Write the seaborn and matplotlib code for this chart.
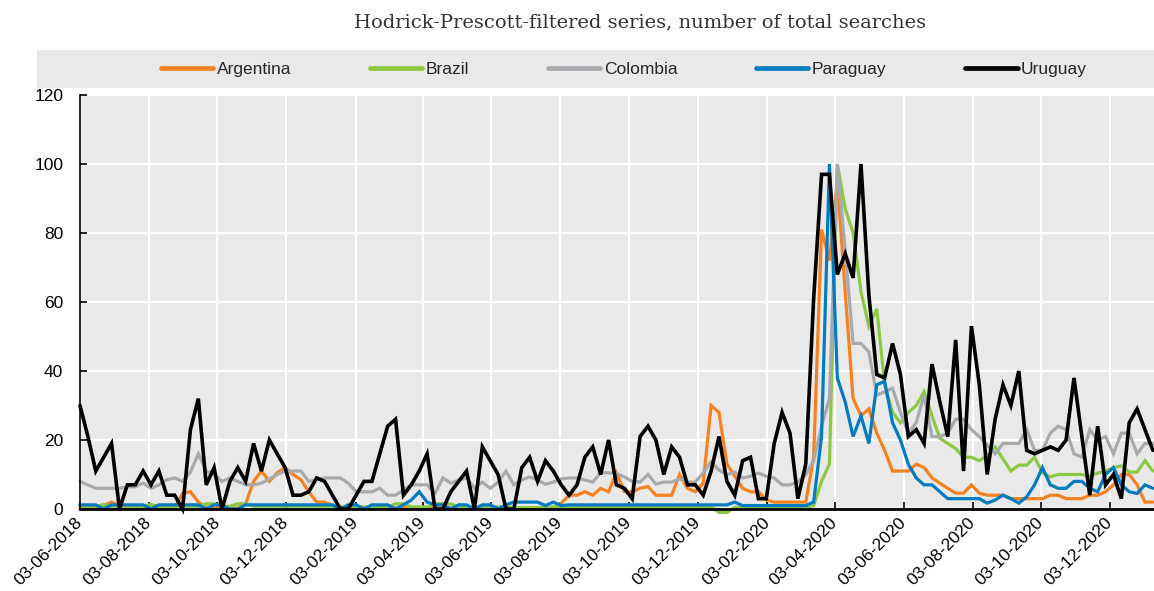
import pandas as pd
import seaborn as sns
import matplotlib.pyplot as plt
import matplotlib.dates as mdates
from matplotlib.patches import Rectangle
from matplotlib.lines import Line2D
from matplotlib import font_manager

# weekly observations (Sundays), June 2018 - January 2021
weeks = pd.date_range('2018-06-03', periods=137, freq='7D')

argentina = [0.3, 0.3, 0.3, 1, 2, 1, 0.3, 0.3, 0.3, 0.3, 0.3, 0.3, 0.3, 4.5, 5, 2, 0.5, 0.3, 0.3, 0.3,
             0.3, 1.5, 8, 11, 8, 10.5, 12, 10, 8.5, 5, 2, 2, 1,
             0.3, 0.3, 0.3, 0.3, 0.3, 0.3, 0.3, 0.3, 0.3, 0.3, 0.3, 0.3, 0.3, 0.3, 0.3, 0.3, 0.3, 0.3,
             0.3, 0.3, 0.3, 0.3, 0.3, 0.3, 0.3, 0.3, 0.3, 0.3,
             1.7, 4, 4, 5, 4, 6, 5, 10.5, 5, 5, 6, 6.5, 4, 4, 4, 10, 6, 5, 7.5, 30, 28, 13, 9.5, 6,
             5, 5, 2.6, 2, 2, 2, 2, 2, 15, 81, 72, 95, 63, 32, 27, 29, 22, 17, 11, 11, 11, 13, 12, 9,
             7.5, 6, 4.6, 4.6, 7, 4.6, 4, 4, 4, 3, 3, 3, 3, 3, 4, 4, 3, 3, 3, 4, 4, 5, 7, 10, 10, 7,
             2, 2]

brazil = [0.8, 0.8, 0.8, 1.3, 0.8, 0.8, 0.8, 0.8, 0.8, 1.3, 0.8, 0.8, 0.8, 0.8, 0.8, 0.8, 1.5, 1.5, 0.8, 0.8,
          1.5, 1.5, 0.8, 0.8, 0.8, 0.8, 0.8, 0.8, 0.8, 0.8, 0.8, 0.8, 0.8,
          0.6, 0.6, 0.6, 0.6, 0.6, 0.6, 0.6, 1.5, 1.5, 0.6, 0.6, 0.6, 1.5, 1.5, 1.5, 0.6, 0.6, 0.6,
          0.6, 0.6, 0.6, 0.6, 0.4, 0.4, 0.4, 0.4, 0.4, 0.6,
          0.6, 0.6, 0.6, 0.6, 0.6, 0.6, 0.6, 0.6, 0.6, 0.6, 0.6, 0.6, 0.6, 0.6, 0.6, 0.6, 0.6, 0.6, 0.6, 0.6,
          -1, -1, 0.5, 0.5, 0.5, 0.5, 0.5, 0.5, 0.5, 0.5, 0.5, 0.5, 1, 8, 13, 100, 87, 80, 63, 53, 58, 36,
          28, 25, 28, 30, 34, 27, 20.5, 19, 17.5, 15, 15, 14, 15.5, 18, 14.5, 11, 12.7, 12.7, 15, 10.5,
          9.3, 10, 10, 10, 10, 9.5, 10.4, 11, 12, 12.5, 10.7, 10.7, 14, 11]

colombia = [8, 7, 6, 6, 6, 6, 6.4, 6.4, 7.5, 6, 7, 8.5, 9, 8, 10.7, 16, 11, 10, 8, 9,
            8, 7, 7, 7.5, 8.7, 10, 11, 11, 11, 8, 8.5, 9, 9,
            9, 7.5, 5, 5, 5, 6, 4, 4, 5.5, 7, 7, 7, 4.6, 9, 7.5, 8.4, 9, 6,
            7.8, 6, 7.8, 11, 7, 8.4, 9.3, 8.4, 7.2, 7.8,
            8.7, 9, 9, 8.4, 7.8, 10.5, 10.5, 10.3, 9.3, 8, 7.8, 10, 7.2, 7.8, 7.8, 8.7, 7.8, 7.8, 10.5, 13.7,
            11.3, 10, 10.7, 9, 9.5, 10.4, 9.5, 9, 7, 7, 7.8, 10, 14, 24, 32, 100, 75, 48, 48, 45.5, 33, 34,
            35, 28, 22, 25, 33, 21, 21, 22, 26, 26, 23, 21, 18.5, 16, 19, 19, 19, 23, 17, 17,
            22, 24, 23, 16, 15, 23, 20, 21, 16, 22, 22, 16, 19, 19]

paraguay = [1.2, 1.2, 1.2, 0, 1.2, 1.2, 1.2, 1.2, 1.2, 0, 1.2, 1.2, 1.2, 1.2, 1.2, 1.2, 0, 1.2, 1.2, 0,
            0, 1.2, 1.2, 1.2, 1.2, 1.2, 1.2, 1.2, 1.2, 1.2, 1.2, 1.2, 1.2,
            0, 1.2, 1.2, 0, 1.2, 1.2, 1.2, 0, 1.2, 2.6, 5, 2, 1.2, 1.2, 0, 1.2, 1.2, 0,
            1.2, 1.2, 0, 1.2, 2, 2, 2, 2, 1, 2,
            1, 1.2, 1.2, 1.2, 1.2, 1.2, 1.2, 1.2, 1.2, 1.2, 1.2, 1.2, 1.2, 1.2, 1.2, 1.2, 1.2, 1.2, 1.2, 1.2,
            1.2, 1.2, 2, 1, 1, 1, 1, 1, 1, 1, 1, 1, 2, 21, 100, 38, 31, 21, 27, 19, 36, 37,
            25, 20, 13, 9, 7, 7, 5, 3, 3, 3, 3, 3, 1.7, 2.6, 4, 3, 1.7, 3.5, 7, 12,
            7, 6, 6, 8, 8, 6, 5, 10, 12, 7, 5, 4.5, 7, 6]

uruguay = [30, 21, 11, 15, 19, 0, 7, 7, 11, 7, 11, 4, 4, 0, 23, 32, 7, 12, 0, 8,
           12, 8, 19, 11, 20, 16, 12, 4, 4, 5, 9, 8, 4,
           0, 0, 4, 8, 8, 16, 24, 26, 4, 7, 11, 16, 0, 0, 5, 8, 11, 0,
           18, 14, 10, 0, 0, 12, 15, 8, 14, 11,
           7, 4, 7, 15, 18, 10, 20, 7, 6, 3, 21, 24, 20, 10, 18, 15, 7, 7, 4, 11,
           21, 8, 4, 14, 15, 3, 3, 19, 28, 22, 3, 13, 61, 97, 97, 68, 74, 67, 100, 62,
           39, 38, 48, 39, 21, 23, 19, 42, 31, 21, 49, 11, 53, 36, 10, 26, 36, 30, 40, 17,
           16, 17, 18, 17, 20, 38, 21, 4, 24, 7, 10, 3, 25, 29, 23, 17]

countries = ['Argentina', 'Brazil', 'Colombia', 'Paraguay', 'Uruguay']
colours = ['#F58220', '#8CC841', '#A7A9AC', '#037BC1', '#000000']

data = pd.DataFrame({'Week': weeks, 'Argentina': argentina, 'Brazil': brazil,
                     'Colombia': colombia, 'Paraguay': paraguay, 'Uruguay': uruguay})
long_data = data.melt(id_vars='Week', var_name='Country', value_name='Searches')

sns.set_theme(style='darkgrid')
available = {f.name for f in font_manager.fontManager.ttflist}
if 'Liberation Sans Narrow' in available:
    plt.rcParams['font.family'] = ['Liberation Sans Narrow', 'DejaVu Sans']
    tick_size, legend_size = 14, 14.5
else:
    plt.rcParams['font.family'] = ['Liberation Sans', 'DejaVu Sans']
    tick_size, legend_size = 12.5, 12.5

W, H = 1154, 591
fig = plt.figure(figsize=(W / 100, H / 100), dpi=100)
fig.patch.set_facecolor('white')

# grey band behind the legend
fig.patches.append(Rectangle((37 / W, 1 - 88 / H), 1 - 37 / W, 38 / H, transform=fig.transFigure,
                             facecolor='#e9e9e9', edgecolor='none', zorder=0))

ax = fig.add_axes([80 / W, 1 - 509 / H, 1 - 80 / W, 414 / H])
sns.lineplot(data=long_data, x='Week', y='Searches', hue='Country', hue_order=countries,
             palette=dict(zip(countries, colours)), legend=False, ax=ax)

for line, name in zip(ax.lines, countries):
    line.set_linewidth(2.6 if name == 'Uruguay' else 2.3)
    line.set_clip_on(False)
    line.set_solid_joinstyle('miter')

ax.set_facecolor('#e9e9e9')
ax.grid(True, color='white', linewidth=1.6)
ax.set_axisbelow(True)
ax.set_ylim(0, 120)
ax.set_yticks(range(0, 121, 20))
ax.set_xlim(weeks[0], weeks[-1] + pd.Timedelta(days=1))
ax.xaxis.set_major_locator(mdates.MonthLocator(bymonth=(2, 4, 6, 8, 10, 12), bymonthday=3))
ax.xaxis.set_major_formatter(mdates.DateFormatter('%d-%m-%Y'))
ax.set_xlabel('')
ax.set_ylabel('')

for side in ['top', 'right']:
    ax.spines[side].set_visible(False)
ax.spines['left'].set_visible(True)
ax.spines['left'].set_color('black')
ax.spines['left'].set_linewidth(1.2)
ax.spines['bottom'].set_visible(True)
ax.spines['bottom'].set_color('black')
ax.spines['bottom'].set_linewidth(2)

ax.tick_params(axis='y', direction='in', length=5, width=1.2, color='black', pad=12,
               labelsize=tick_size, labelcolor='black', left=True)
ax.tick_params(axis='x', direction='in', length=5, width=1.2, color='black', pad=8,
               labelsize=tick_size, labelcolor='black', bottom=True)
for label in ax.get_xticklabels():
    label.set_rotation(45)
    label.set_ha('right')
    label.set_va('center')
    label.set_rotation_mode('anchor')

handles = [Line2D([], [], color=c, linewidth=3.4) for c in colours]
fig.legend(handles, countries, ncol=5, loc='center', bbox_to_anchor=(624 / W, 1 - 69 / H),
           frameon=False, fontsize=legend_size, handlelength=3.0, handletextpad=0.2,
           columnspacing=4.55)

fig.text(640 / W, 1 - 22 / H, 'Hodrick-Prescott-filtered series, number of total searches',
         ha='center', va='center', family='DejaVu Serif', fontsize=14, color='#333333')

fig.savefig('out.png', dpi=100)
